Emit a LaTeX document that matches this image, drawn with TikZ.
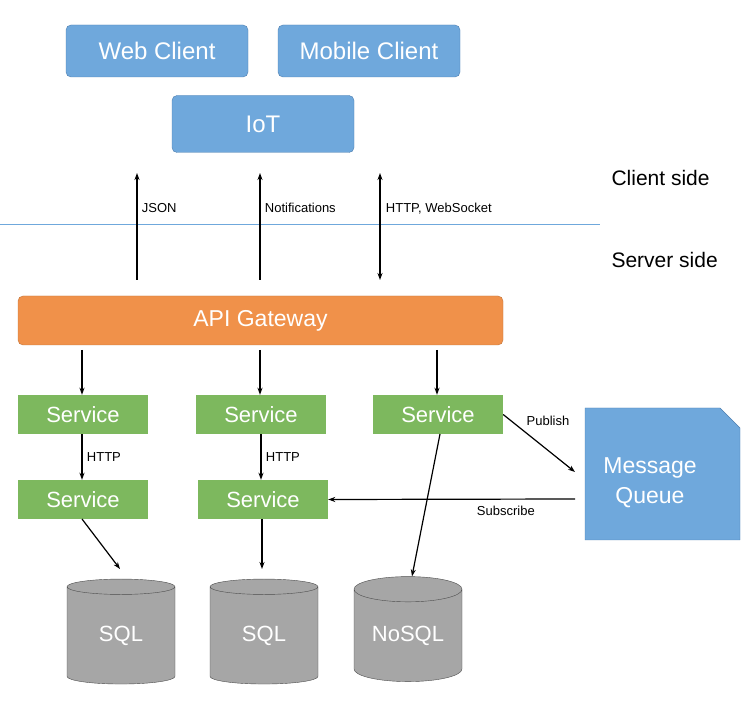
\documentclass[tikz,border=0pt]{standalone}
\usepackage{fontspec}
\setmainfont{Liberation Sans}
\usetikzlibrary{shapes.geometric,arrows.meta}
\definecolor{cblue}{HTML}{6FA8DC}
\definecolor{cbluel}{HTML}{4F7FAF}
\definecolor{corange}{HTML}{F0914A}
\definecolor{cgreen}{HTML}{7DB85E}
\definecolor{cgray}{HTML}{A6A6A6}
\begin{document}
\begin{tikzpicture}[x=1pt,y=-1pt,
 client/.style={draw=cbluel,fill=cblue,rounded corners=5pt,text=white,font=\fontsize{24}{28}\selectfont,inner sep=0},
 svc/.style={fill=cgreen,text=white,font=\fontsize{22}{26}\selectfont,inner sep=0},
 db/.style={cylinder,shape border rotate=90,aspect=0.35,draw=gray!60!black,fill=cgray,text=white,font=\fontsize{22}{26}\selectfont,minimum width=108pt,minimum height=105pt,inner sep=0},
 arr/.style={-{Stealth[length=7pt,width=5pt]},line width=1.2pt},
 lbl/.style={font=\fontsize{13}{15}\selectfont},
 side/.style={font=\fontsize{21}{24}\selectfont,anchor=west}]
\useasboundingbox (0,0) rectangle (748,719);
\node[client,minimum width=182pt,minimum height=52pt] (web) at (157,51) {Web Client};
\node[client,minimum width=182pt,minimum height=52pt] (mob) at (369,51) {Mobile Client};
\node[client,minimum width=182pt,minimum height=57pt] (iot) at (263,124) {IoT};
\draw[cblue,line width=0.8pt] (0,224) -- (600,224);
\node[side] (cs) at (608,178) {Client side};
\node[side] (ss) at (608,260) {Server side};
\node[draw=corange!80!black,fill=corange,rounded corners=5pt,text=white,font=\fontsize{23}{26}\selectfont,minimum width=485pt,minimum height=49pt,inner sep=0] (gw) at (260.5,320.5) {API Gateway};
\coordinate (a1) at (137,280); \coordinate (b1) at (137,173);
\coordinate (a2) at (260,280); \coordinate (b2) at (260,173);
\coordinate (a3) at (380,280); \coordinate (b3) at (380,173);
\draw[arr] (a1) -- node[lbl,right,xshift=1pt,pos=0.67]{JSON} (b1);
\draw[arr] (a2) -- node[lbl,right,xshift=1pt,pos=0.67]{Notifications} (b2);
\draw[arr,{Stealth[length=7pt,width=5pt]}-{Stealth[length=7pt,width=5pt]}] (a3) -- node[lbl,right,xshift=2pt,pos=0.67]{HTTP, WebSocket} (b3);
\node[svc,minimum width=130pt,minimum height=39pt] (s1) at (83,414.5) {Service};
\node[svc,minimum width=130pt,minimum height=39pt] (s2) at (261,414.5) {Service};
\node[svc,minimum width=130pt,minimum height=39pt] (s3) at (438,414.5) {Service};
\node[svc,minimum width=130pt,minimum height=39pt] (s4) at (83,499.5) {Service};
\node[svc,minimum width=130pt,minimum height=39pt] (s5) at (263,499.5) {Service};
\draw[arr] (82,350) -- (s1.north -| 82,0);
\draw[arr] (260,350) -- (s2.north -| 260,0);
\draw[arr] (437,350) -- (s3.north -| 437,0);
\draw[arr] (s1.south -| 82,0) -- node[lbl,right,xshift=1pt]{HTTP} (s4.north -| 82,0);
\draw[arr] (s2.south -| 261,0) -- node[lbl,right,xshift=1pt]{HTTP} (s5.north -| 261,0);
\node[db] (d1) at (121,635.5) {SQL};
\node[db] (d2) at (264,635.5) {SQL};
\node[db] (d3) at (408,635.5) {NoSQL};
\fill[cblue,draw=cbluel] (585,408) -- (720,408) -- (740,428) -- (740,540) -- (585,540) -- cycle;
\node[text=white,font=\fontsize{23}{30}\selectfont,align=center] (mq) at (650,483) {Message\\Queue};
\coordinate (mqa) at (575,472); \coordinate (mqb) at (575,499);
\draw[arr] (s3.east) -- node[lbl,above right,pos=0.3,xshift=-2pt,yshift=2pt]{Publish} (mqa);
\draw[arr] (mqb) -- node[lbl,below,pos=0.28,yshift=-3pt]{Subscribe} (s5.east);
\draw[arr] (440,434) -- (d3.north -| 412,0);
\draw[arr] (82,519) -- (120,569);
\draw[arr] (262,519) -- (262,569);
\end{tikzpicture}
\end{document}
